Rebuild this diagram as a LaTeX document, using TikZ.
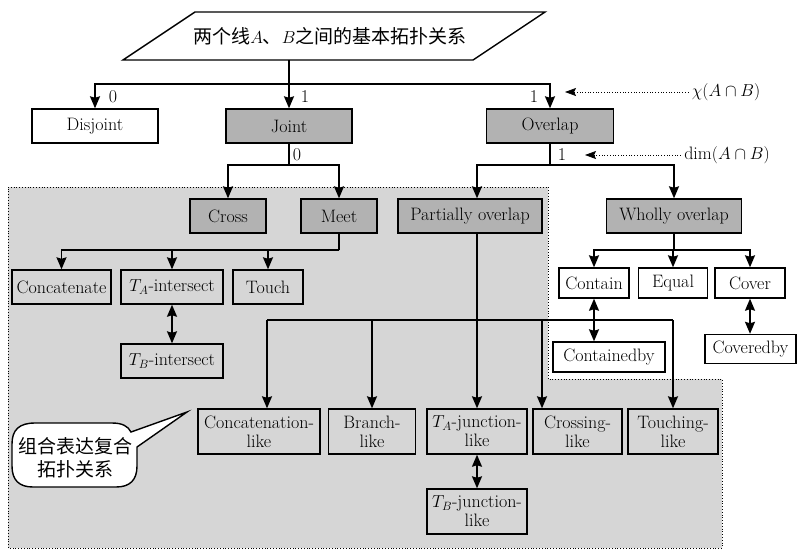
\documentclass[tikz,border=0pt]{standalone}
\usepackage{fontspec}
\newfontfamily\cjk{Noto Sans CJK SC}
\usetikzlibrary{arrows.meta,calc}
\definecolor{regiongray}{RGB}{214,214,214}
\definecolor{boxgray}{RGB}{178,178,178}
\begin{document}
\begin{tikzpicture}[x=1pt,y=-1pt,
  font=\fontsize{18}{19}\selectfont,
  bx/.style={draw, line width=1.4pt, inner sep=0pt, minimum height=34pt, align=center},
  gbx/.style={bx, fill=boxgray},
  wbx/.style={bx, fill=white},
  tall/.style={minimum height=45pt},
  ln/.style={line width=1.6pt},
  arr/.style={line width=1.6pt, -{Stealth[length=12pt,width=10pt,inset=1.5pt]}},
  darr/.style={line width=1.6pt, {Stealth[length=12pt,width=10pt,inset=1.5pt]}-{Stealth[length=12pt,width=10pt,inset=1.5pt]}},
  dots/.style={dotted, line width=0.7pt, -{Stealth[length=11pt,width=8pt,inset=2pt]}}]
\useasboundingbox (0,0) rectangle (797,550);

% grey region
\draw[dotted, line width=0.8pt, fill=regiongray] (8,187) -- (548,187) -- (548,379) -- (722,379) -- (722,548) -- (8,548) -- cycle;

% title
\draw[line width=1.4pt, fill=white] (195,12) -- (545,12) -- (473,60) -- (123,60) -- cycle;
\node[inner sep=0pt, minimum width=300pt, minimum height=48pt] (title) at (330,36)
  {\fontsize{19}{22}\selectfont\cjk 两个线{\normalfont$A$}、{\normalfont$B$}之间的基本拓扑关系};

% level 1
\node[wbx, minimum width=126pt] (disjoint) at (95,126) {Disjoint};
\node[gbx, minimum width=126pt] (joint) at (289,126) {Joint};
\node[gbx, minimum width=127pt] (overlap) at (550,126) {Overlap};

% level 2
\node[gbx, minimum width=76pt] (cross) at (228,216) {Cross};
\node[gbx, minimum width=76pt] (meet) at (339,216) {Meet};
\node[gbx, minimum width=144pt] (pover) at (470,216) {Partially overlap};
\node[gbx, minimum width=135pt] (wover) at (674,216) {Wholly overlap};

% level 3 left
\node[bx, minimum width=99pt] (concat) at (61.5,287) {Concatenate};
\node[bx, minimum width=102pt] (taint) at (172,287) {$T_A$-intersect};
\node[bx, minimum width=70pt] (touch) at (268,287) {Touch};
\node[bx, minimum width=102pt] (tbint) at (172,361) {$T_B$-intersect};

% level 3 right
\node[wbx, minimum width=70pt, minimum height=30pt] (contain) at (594,283) {Contain};
\node[wbx, minimum width=69pt, minimum height=30pt] (equal) at (673,283) {Equal};
\node[wbx, minimum width=70pt, minimum height=30pt] (cover) at (750,283) {Cover};
\node[wbx, minimum width=112pt, minimum height=30pt] (containedby) at (609,357) {Containedby};
\node[wbx, minimum width=91pt, minimum height=29pt] (coveredby) at (750.5,349) {Coveredby};

% bottom row
\node[bx, tall, minimum width=122pt] (concl) at (259,431.5) {Concatenation-\\like};
\node[bx, tall, minimum width=87pt] (branch) at (372,431.5) {Branch-\\like};
\node[bx, tall, minimum width=100pt] (tajl) at (477,431.5) {$T_A$-junction-\\like};
\node[bx, tall, minimum width=89pt] (crossl) at (577.5,431.5) {Crossing-\\like};
\node[bx, tall, minimum width=90pt] (touchl) at (673,431.5) {Touching-\\like};
\node[bx, tall, minimum width=100pt] (tbjl) at (477,511.5) {$T_B$-junction-\\like};

% connectors top
\coordinate (tbus) at (289,84);
\draw[ln] (title.south -| joint.north) -- (tbus);
\draw[arr] (tbus) -- (joint.north);
\draw[arr] (tbus) -| (disjoint.north);
\draw[arr] (tbus) -| (overlap.north);

\coordinate (jbus) at (289,165);
\draw[ln] (joint.south) -- (jbus);
\draw[arr] (jbus) -| (cross.north);
\draw[arr] (jbus) -| (meet.north);

\coordinate (obus) at (550,165);
\draw[ln] (overlap.south) -- (obus);
\draw[arr] (obus) -| (pover.north -| tajl.north);
\draw[arr] (obus) -| (wover.north);

\coordinate (mbus) at (339,250);
\draw[ln] (meet.south) -- (mbus);
\draw[arr] (mbus) -| (concat.north);
\draw[arr] (mbus) -| (taint.north);
\draw[arr] (mbus) -| (touch.north);
\draw[darr] (taint.south) -- (tbint.north);

\coordinate (wbus) at (674,250);
\draw[ln] (wover.south) -- (wbus);
\draw[arr] (wbus) -| (contain.north);
\draw[arr] (wbus) -| (equal.north);
\draw[arr] (wbus) -| (cover.north);
\draw[darr] (contain.south) -- (contain.south |- containedby.north);
\draw[darr] (cover.south) -- (cover.south |- coveredby.north);

% bottom bus
\coordinate (bb1) at (267,320);
\coordinate (bb2) at (673,320);
\coordinate (bcx) at (542,320);
\draw[ln] (bb1) -- (bb2);
\draw[arr] (bb1) -- (bb1 |- concl.north);
\draw[arr] (branch.north |- bb1) -- (branch.north);
\draw[arr] (bcx) -- (bcx |- crossl.north);
\draw[arr] (bb2) -- (touchl.north);
\draw[arr] (pover.south -| tajl.north) -- (tajl.north);
\draw[darr] (tajl.south) -- (tbjl.north);

% labels
\node (l0a) at (113,97) {0};
\node (l1a) at (305,97) {1};
\node (l1b) at (534,97) {1};
\node (l0b) at (297,155) {0};
\node (l1c) at (562,155) {1};

\node (chi) at (726,92) {$\chi(A\cap B)$};
\coordinate (chitip) at (565,92);
\draw[dots] (chi.west) -- (chitip);
\node (dimn) at (727,155) {$\dim(A\cap B)$};
\coordinate (dimtip) at (585,155);
\draw[dots] (dimn.west) -- (dimtip);

% callout
\draw[line width=1.4pt, fill=white] (35,423) -- (112,423) .. controls (122,423) and (128,426) .. (131,432) -- (187,412) -- (137,447) -- (137,466) .. controls (137,480) and (130,487) .. (116,487) -- (33,487) .. controls (19,487) and (12,480) .. (12,466) -- (12,444) .. controls (12,430) and (19,423) .. (35,423) -- cycle;
\node[align=center, font=\fontsize{19}{23}\selectfont\cjk] (calltext) at (75,458) {组合表达复合\\拓扑关系};
\end{tikzpicture}
\end{document}
